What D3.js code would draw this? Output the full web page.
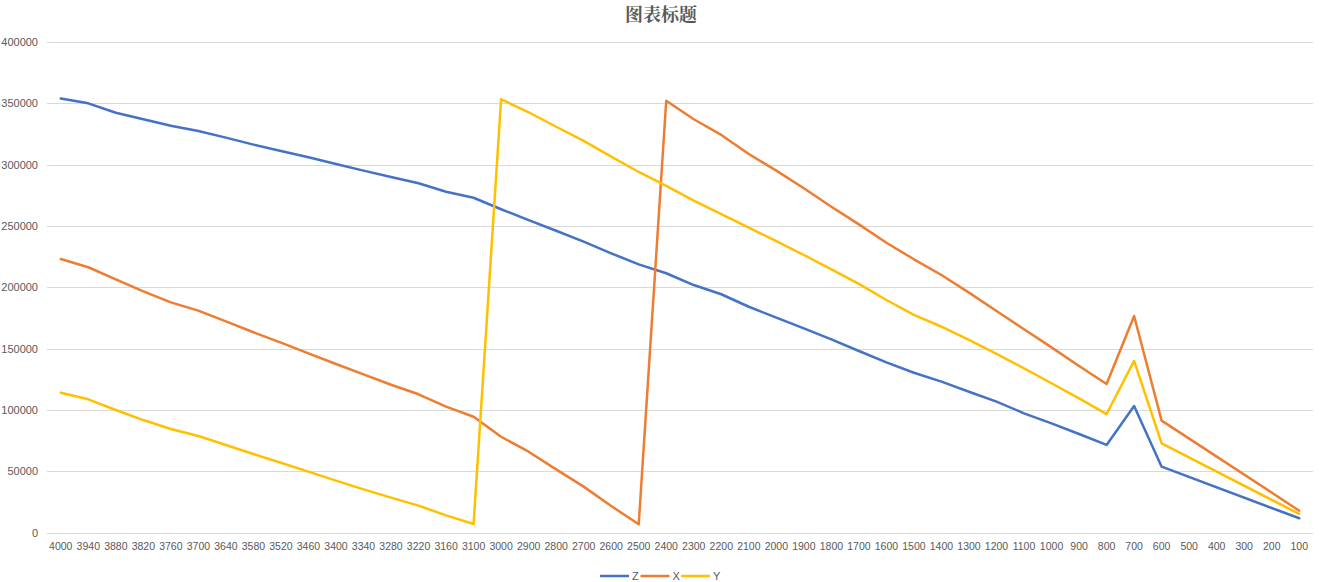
<!DOCTYPE html>
<html>
<head>
<meta charset="utf-8">
<script src="https://cdn.jsdelivr.net/npm/d3@7"></script>
<style>
	body { margin: 0; background: #fff; }
	svg text { fill: #595959; }
</style>
</head>
<body>
<div id="chart"></div>
<script>
var categories = ["4000","3940","3880","3820","3760","3700","3640","3580","3520","3460","3400","3340","3280","3220","3160","3100",
		"3000","2900","2800","2700","2600","2500","2400","2300","2200","2100","2000","1900","1800","1700","1600","1500",
		"1400","1300","1200","1100","1000","900","800","700","600","500","400","300","200","100"];

// empty cells (500..200) are bridged by the line, like the original
var zValues = [354000,350000,342300,337000,331700,327400,322000,316300,311100,306000,300500,295100,289900,284800,277900,273000,
		263600,254800,246100,237200,227700,218700,211400,201800,194300,184100,175200,166500,157500,148000,138800,130300,
		123000,114800,106700,97200,89000,80300,71400,103200,53700,null,null,null,null,11600];
var xValues = [223000,216300,206500,196700,187700,180900,172200,163300,154800,146100,137400,129000,120500,112700,102600,94400,
		78100,65900,51500,37400,21600,6700,352100,337000,324200,308700,295100,280700,265700,251300,236300,222800,
		210000,195600,180600,165700,151000,135800,121100,176600,91200,null,null,null,null,17800];
var yValues = [114000,108600,99900,91700,84400,78700,71400,64000,56900,49600,42300,35200,28400,21900,14000,6900,
		353300,342700,330900,319300,306500,294000,282600,270600,259700,248600,237700,226300,214600,202700,189600,177400,
		167800,157000,145600,133900,121700,109400,96600,139900,72700,null,null,null,null,15100];

var seriesNames = ["Z", "X", "Y"];
var seriesColors = ["#4472C4", "#ED7D31", "#FFC000"];
var yTicks = [0,50000,100000,150000,200000,250000,300000,350000,400000];

var W = 1322, H = 582;
var margin = {top: 42, right: 9, bottom: 49.5, left: 47};
var width = W - margin.left - margin.right,
		height = H - margin.top - margin.bottom;

var svg = d3.select("#chart").append("svg")
	.attr("width", W)
	.attr("height", H)
	.style("font-family", "'Liberation Sans', Arial, sans-serif");

svg.append("text")
	.attr("x", W / 2)
	.attr("y", 21)
	.attr("text-anchor", "middle")
	.style("font-family", "'Noto Serif CJK SC', 'Noto Sans CJK SC', serif")
	.style("font-size", "18px")
	.style("font-weight", "bold")
	.text("图表标题");

var g = svg.append("g")
	.attr("transform", "translate(" + margin.left + "," + margin.top + ")");

var x = d3.scaleBand().domain(categories).range([0, width]);
var y = d3.scaleLinear().domain([0, 400000]).range([height, 0]);

// grid
g.append("g")
	.attr("class", "grid")
	.selectAll("line")
	.data(yTicks)
	.enter().append("line")
		.attr("x1", 0)
		.attr("x2", width)
		.attr("y1", function(d) { return Math.round(y(d)) + 0.5; })
		.attr("y2", function(d) { return Math.round(y(d)) + 0.5; })
		.attr("stroke", "#d9d9d9")
		.attr("stroke-width", 1);

var yAxis = d3.axisLeft(y).tickValues(yTicks).tickSize(0).tickPadding(9).tickFormat(d3.format("d"));
var gy = g.append("g").call(yAxis);
gy.select(".domain").remove();
gy.selectAll("text").style("font-size", "11px").attr("fill", "#595959");

var xAxis = d3.axisBottom(x).tickSize(0).tickPadding(10);
var gx = g.append("g")
	.attr("transform", "translate(0," + height + ")")
	.call(xAxis);
gx.select(".domain").remove();
gx.selectAll("text").style("font-size", "10.5px").attr("fill", "#595959");

var line = d3.line()
	.x(function(d) { return x(d.cat) + x.bandwidth() / 2; })
	.y(function(d) { return y(d.value); });

[zValues, xValues, yValues].forEach(function(values, i) {
	var pts = categories.map(function(c, j) {
		return {cat: c, value: values[j]};
	}).filter(function(d) { return d.value !== null; });

	g.append("path")
		.datum(pts)
		.attr("fill", "none")
		.attr("stroke", seriesColors[i])
		.attr("stroke-width", 2.5)
		.attr("stroke-linejoin", "round")
		.attr("stroke-linecap", "round")
		.attr("d", line);
});

// legend
var legend = svg.append("g").attr("transform", "translate(600,576)");
var item = legend.selectAll("g")
	.data(seriesNames)
	.enter().append("g")
		.attr("transform", function(d, i) { return "translate(" + (i * 40.5) + ",0)"; });
item.append("line")
	.attr("x1", 0).attr("x2", 29)
	.attr("y1", 0).attr("y2", 0)
	.attr("stroke", function(d, i) { return seriesColors[i]; })
	.attr("stroke-width", 2.5);
item.append("text")
	.attr("x", 32)
	.attr("y", 4)
	.style("font-size", "11px")
	.text(function(d) { return d; });
</script>
</body>
</html>
